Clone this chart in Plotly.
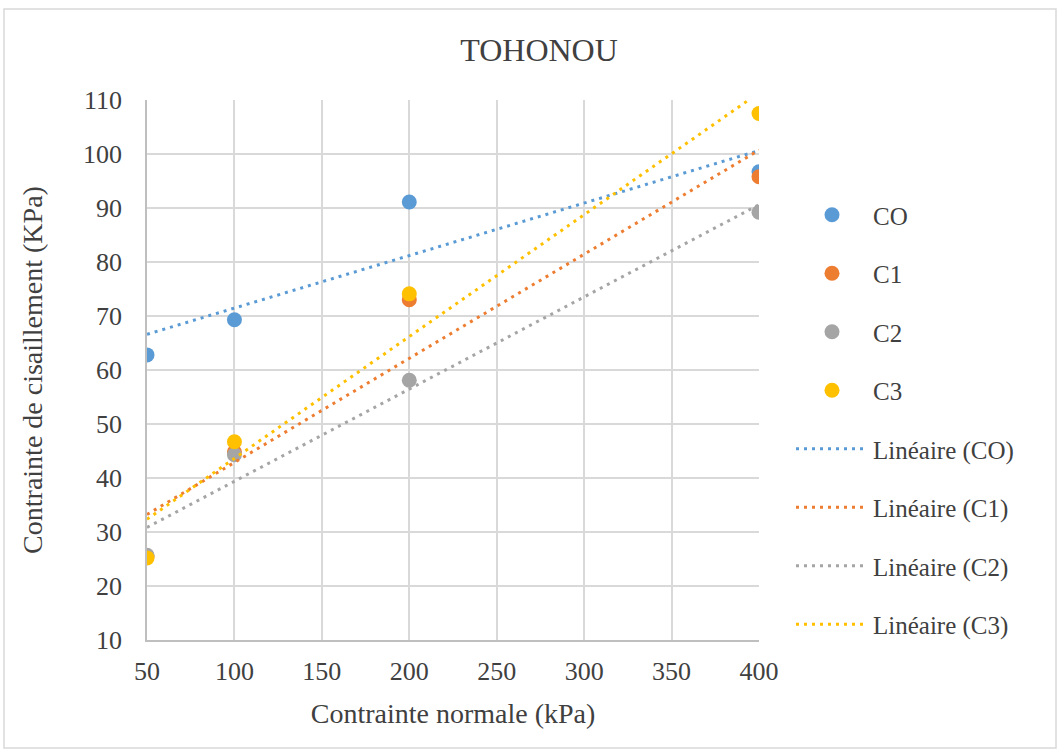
import numpy as np
import plotly.graph_objects as go

x_vals = [50, 100, 200, 400]
co = [62.8, 69.3, 91.1, 96.7]
c1 = [25.4, 44.8, 73.0, 95.8]
c2 = [25.7, 44.3, 58.1, 89.2]
c3 = [25.2, 46.7, 74.1, 107.5]

names = ["CO", "C1", "C2", "C3"]
series = [co, c1, c2, c3]
colors = ["#5B9BD5", "#ED7D31", "#A5A5A5", "#FFC000"]

FONT = "'Liberation Serif', 'Times New Roman', serif"
TXT = "#404040"

fig = go.Figure()
for i, (n, s, c) in enumerate(zip(names, series, colors)):
    fig.add_trace(go.Scatter(x=x_vals, y=s, mode="markers", name=n,
                             marker=dict(color=c, size=15),
                             legendgroup=f"g{i}", legendrank=i))
for i, (n, s, c) in enumerate(zip(names, series, colors)):
    slope, intercept = np.polyfit(x_vals, s, 1)
    xs = np.array([min(x_vals), max(x_vals)], dtype=float)
    fig.add_trace(go.Scatter(x=xs, y=slope * xs + intercept, mode="lines",
                             name=f"Linéaire ({n})",
                             line=dict(color=c, width=3, dash="3px,5px"),
                             legendgroup=f"l{i}", legendrank=10 + i))

W, H = 1061, 753
L, R, T, B = 147, 302, 100, 113
pw, ph = W - L - R, H - T - B

def px_to_paper_x(px):
    return (px - L) / pw

def px_to_paper_y(py):
    return (H - B - py) / ph

fig.update_layout(
    width=W, height=H,
    margin=dict(l=L, r=R, t=T, b=B, autoexpand=False),
    paper_bgcolor="white", plot_bgcolor="white",
    font=dict(family=FONT, color=TXT, size=26),
    title=dict(text="TOHONOU", font=dict(size=32, family=FONT, color=TXT),
               x=539 / W, xanchor="center", xref="container",
               y=1 - 50 / H, yanchor="middle", yref="container"),
    xaxis=dict(range=[50, 400], tickvals=[50, 100, 150, 200, 250, 300, 350, 400],
               showgrid=True, gridcolor="#D9D9D9", gridwidth=1.5,
               showline=True, linecolor="#BFBFBF", linewidth=1.5,
               zeroline=False, ticks="", ticklabelstandoff=7,
               tickfont=dict(size=26, family=FONT, color=TXT),
               title=dict(text="Contrainte normale (kPa)", standoff=18,
                          font=dict(size=28, family=FONT, color=TXT))),
    yaxis=dict(range=[10, 110], tickvals=list(range(10, 111, 10)),
               showgrid=True, gridcolor="#D9D9D9", gridwidth=1.5,
               showline=True, linecolor="#BFBFBF", linewidth=1.5,
               zeroline=False, ticks="", ticklabelstandoff=18,
               tickfont=dict(size=26, family=FONT, color=TXT),
               title=dict(text="Contrainte de cisaillement (KPa)", standoff=32,
                          font=dict(size=28, family=FONT, color=TXT))),
    legend=dict(x=px_to_paper_x(791), xanchor="left",
                y=px_to_paper_y(192), yanchor="top",
                font=dict(size=25, family=FONT, color=TXT),
                tracegroupgap=23, itemwidth=72,
                bgcolor="rgba(0,0,0,0)"),
    showlegend=True,
)

fig.add_shape(type="rect", xref="paper", yref="paper",
              x0=px_to_paper_x(4), x1=px_to_paper_x(1056),
              y0=px_to_paper_y(748), y1=px_to_paper_y(9),
              line=dict(color="#D9D9D9", width=1.5), layer="below")

fig.write_html("out.html")
